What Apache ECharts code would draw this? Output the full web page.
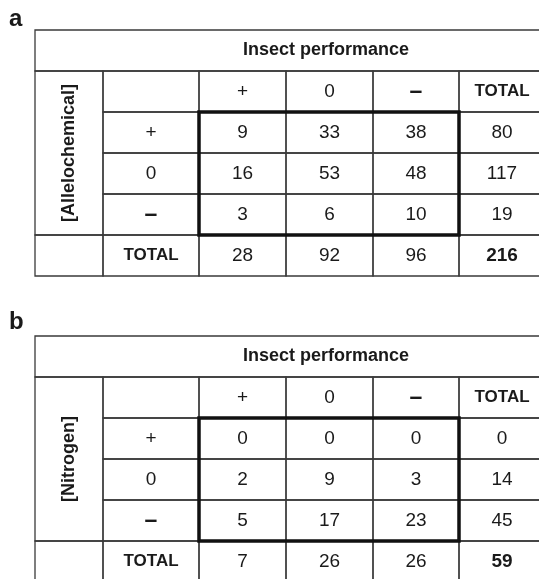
<!DOCTYPE html>
<html>
<head>
<meta charset="utf-8">
<script src="https://cdn.jsdelivr.net/npm/echarts@6/dist/echarts.min.js"></script>
<style>
  html, body { margin: 0; padding: 0; background: #fff; }
  #chart { width: 539px; height: 579px; }
</style>
</head>
<body>
<div id="chart"></div>
<script>
// table contents
const headerLabel = 'Insect performance';
const totalLabel = 'TOTAL';
const colHeaders = ['+', '0', '–', totalLabel];
const rowHeaders = ['+', '0', '–'];
const panelLabels = ['a', 'b'];
const factorLabels = ['[Allelochemical]', '[Nitrogen]'];

const countsA = [[9, 33, 38], [16, 53, 48], [3, 6, 10]];
const rowTotalsA = [80, 117, 19];
const colTotalsA = [28, 92, 96];
const grandTotalA = 216;

const countsB = [[0, 0, 0], [2, 9, 3], [5, 17, 23]];
const rowTotalsB = [0, 14, 45];
const colTotalsB = [7, 26, 26];
const grandTotalB = 59;

// layout (column widths in axis units, one unit = one px)
const colWidths = [68, 96, 87, 87, 86, 86];
const colEdges = [0];
colWidths.forEach(w => colEdges.push(colEdges[colEdges.length - 1] + w));
const nRows = 6;
const headerTextX = 291; // the table runs off the right edge, title sits off-centre

const FONT = '"Liberation Sans", Arial, Helvetica, sans-serif';

function buildCells(counts, rowTotals, colTotals, grand, factor) {
  const cells = [];
  const add = (c0, r0, c1, r1, text, opts) => cells.push(Object.assign({ c0, r0, c1, r1, text }, opts || {}));
  add(0, 0, 6, 1, headerLabel, { bold: true, size: 18, tx: headerTextX });
  add(0, 1, 1, 5, factor, { bold: true, size: 18, rotate: true });
  add(0, 5, 1, 6, '');
  add(1, 1, 2, 2, '');
  colHeaders.forEach((h, j) => {
    const isTotal = h === totalLabel;
    const isDash = h === '–';
    add(2 + j, 1, 3 + j, 2, h, { bold: isTotal || isDash, size: isTotal ? 17 : (isDash ? 23 : 19) });
  });
  rowHeaders.forEach((h, i) => {
    const isDash = h === '–';
    add(1, 2 + i, 2, 3 + i, h, { bold: isDash, size: isDash ? 23 : 19 });
    counts[i].forEach((v, j) => add(2 + j, 2 + i, 3 + j, 3 + i, String(v)));
    add(5, 2 + i, 6, 3 + i, String(rowTotals[i]));
  });
  add(1, 5, 2, 6, totalLabel, { bold: true, size: 17 });
  colTotals.forEach((v, j) => add(2 + j, 5, 3 + j, 6, String(v)));
  add(5, 5, 6, 6, String(grand), { bold: true });
  // heavy frame round the 3x3 body
  add(2, 2, 5, 5, '', { thick: true });
  return cells;
}

const tables = [
  buildCells(countsA, rowTotalsA, colTotalsA, grandTotalA, factorLabels[0]),
  buildCells(countsB, rowTotalsB, colTotalsB, grandTotalB, factorLabels[1])
];

function makeRender(cells) {
  return function (params, api) {
    const cell = cells[params.dataIndex];
    const p0 = api.coord([api.value(0), api.value(1)]);
    const p1 = api.coord([api.value(2), api.value(3)]);
    const x = p0[0], y = p0[1];
    const w = p1[0] - p0[0], h = p1[1] - p0[1];
    const children = [{
      type: 'rect',
      z2: cell.thick ? 10 : 1,
      shape: { x: x, y: y, width: w, height: h },
      style: {
        fill: 'none',
        stroke: cell.thick ? '#111' : '#3a3a3a',
        lineWidth: cell.thick ? 3.5 : 1.3
      }
    }];
    if (cell.text) {
      const cx = cell.tx != null ? api.coord([cell.tx, api.value(1)])[0] : x + w / 2;
      children.push({
        type: 'text',
        x: cx,
        y: y + h / 2,
        rotation: cell.rotate ? Math.PI / 2 : 0,
        style: {
          text: cell.text,
          fontFamily: FONT,
          fontSize: cell.size || 19,
          fontWeight: cell.bold ? 'bold' : 'normal',
          fill: '#1a1a1a',
          align: 'center',
          verticalAlign: 'middle'
        }
      });
    }
    return { type: 'group', children: children };
  };
}

const gridTops = [30, 336];

const chart = echarts.init(document.getElementById('chart'), null, { renderer: 'canvas' });

const option = {
  backgroundColor: '#fff',
  animation: false,
  title: panelLabels.map((t, i) => ({
    text: t,
    left: 9,
    top: i === 0 ? 7 : 310,
    padding: 0,
    textStyle: { fontFamily: FONT, fontSize: 24, fontWeight: 'bold', color: '#1a1a1a' }
  })),
  grid: gridTops.map(top => ({
    left: 35,
    top: top,
    width: colEdges[colEdges.length - 1],
    height: nRows * 41,
    outerBoundsMode: 'none'
  })),
  xAxis: gridTops.map((_, i) => ({
    type: 'value', gridIndex: i, min: 0, max: colEdges[colEdges.length - 1], show: false
  })),
  yAxis: gridTops.map((_, i) => ({
    type: 'value', gridIndex: i, min: 0, max: nRows, inverse: true, show: false
  })),
  series: tables.map((cells, i) => ({
    type: 'custom',
    xAxisIndex: i,
    yAxisIndex: i,
    clip: false,
    renderItem: makeRender(cells),
    data: cells.map(c => [colEdges[c.c0], c.r0, colEdges[c.c1], c.r1])
  }))
};

chart.setOption(option);
</script>
</body>
</html>
